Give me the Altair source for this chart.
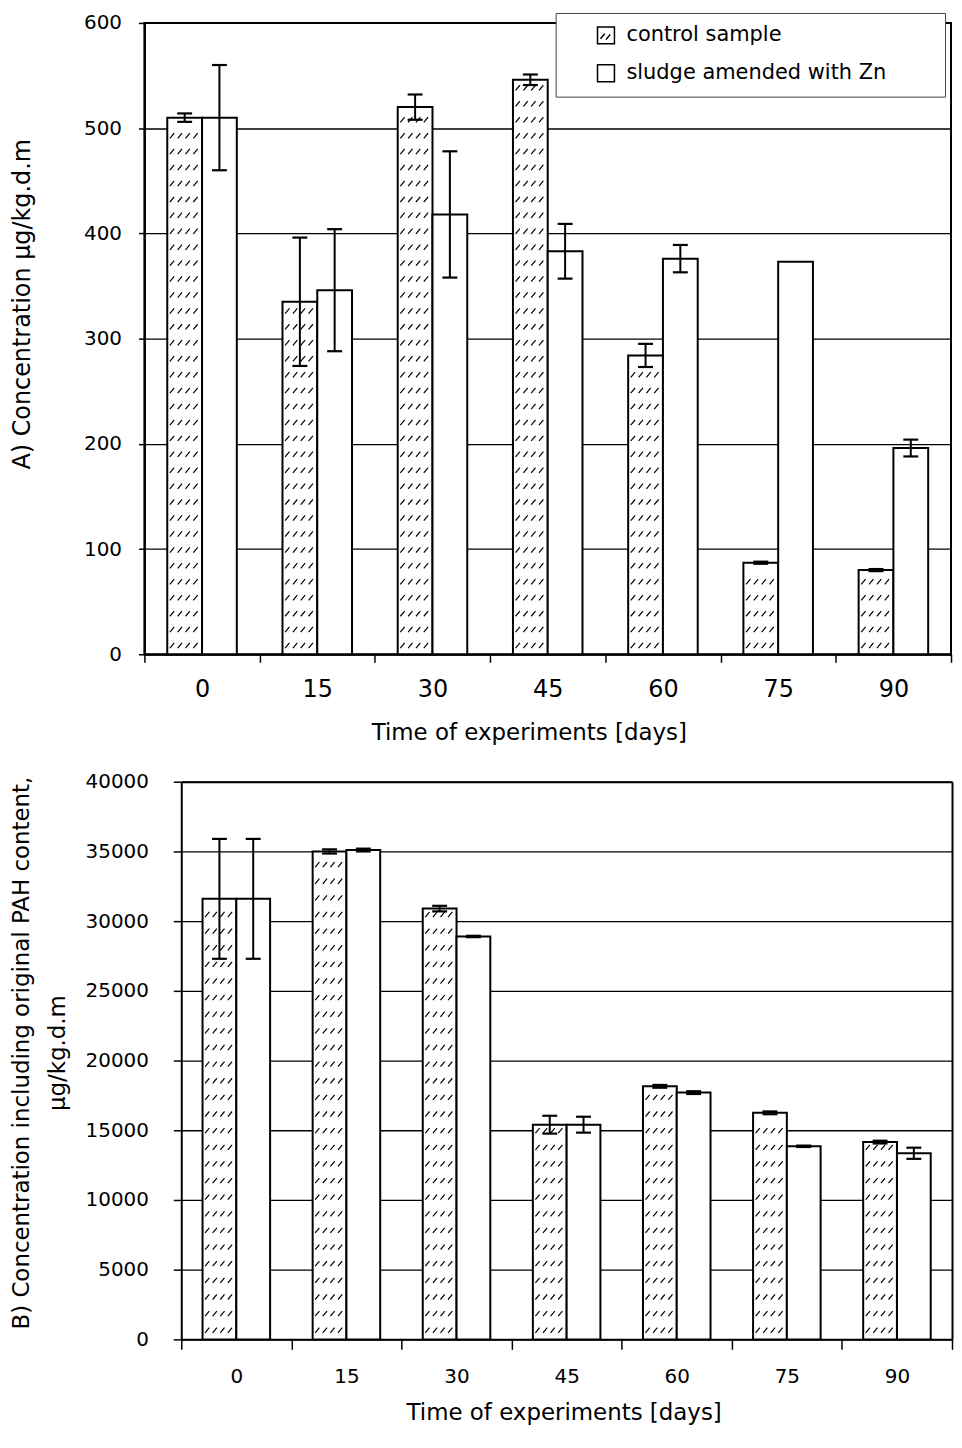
import altair as alt
import pandas as pd
import numpy as np

days = ["0", "15", "30", "45", "60", "75", "90"]
series = ["control sample", "sludge amended with Zn"]

# Panel A values
a_control = [510, 335, 520, 546, 284, 87, 80]
a_control_err = [4, 61, 12, 5, 11, 1, 1]
a_sludge = [510, 346, 418, 383, 376, 373, 196]
a_sludge_err = [50, 58, 60, 26, 13, 0, 8]

# Panel B values
b_control = [31600, 35000, 30900, 15400, 18150, 16250, 14150]
b_control_err = [4300, 150, 200, 640, 100, 100, 100]
b_sludge = [31600, 35100, 28900, 15400, 17700, 13850, 13350]
b_sludge_err = [4300, 100, 50, 570, 100, 50, 400]

FONT = "DejaVu Sans"
HATCH = "M-0.85,0.15L-0.6,-0.15M-0.4,0.15L-0.15,-0.15M0.05,0.15L0.3,-0.15M0.5,0.15L0.75,-0.15"
LEG_CTRL = "M-1,-1H1V1H-1ZM-0.65,0.4L-0.15,-0.2M0.0,0.5L0.5,-0.1"


def frames(ctrl, ctrl_err, sl, sl_err, hatch_step):
    rows = []
    for d, v, e in zip(days, ctrl, ctrl_err):
        rows.append({"day": d, "series": series[0], "value": v, "lo": v - e, "hi": v + e, "err": e})
    for d, v, e in zip(days, sl, sl_err):
        rows.append({"day": d, "series": series[1], "value": v, "lo": v - e, "hi": v + e, "err": e})
    df = pd.DataFrame(rows)
    hrows = []
    for d, v in zip(days, ctrl):
        for y in np.arange(hatch_step * 0.55, v - hatch_step * 0.3, hatch_step):
            hrows.append({"day": d, "series": series[0], "hy": float(y)})
    return df, pd.DataFrame(hrows)


def panel(df, hdf, width, height, x0, ymax, ystep, pad_outer, ytitle, yaxis_kw, xaxis_kw, legend, frame_axes):
    data_w = width - x0
    noax = None if frame_axes else alt.Undefined
    xs = alt.X("day:N", sort=days, scale=alt.Scale(paddingInner=0, paddingOuter=0, range=[x0, width]),
               axis=alt.Axis(**xaxis_kw))
    xo = alt.XOffset("series:N", scale=alt.Scale(domain=series, paddingInner=0, paddingOuter=pad_outer))
    yscale = alt.Scale(domain=[0, ymax], nice=False)
    bars = alt.Chart(df).mark_bar(stroke="black", strokeWidth=2).encode(
        x=xs, xOffset=xo,
        y=alt.Y("value:Q", scale=yscale,
                axis=alt.Axis(title=ytitle, values=list(range(0, ymax + 1, ystep)), format="d",
                              **yaxis_kw)),
        fill=alt.Fill("series:N", scale=alt.Scale(domain=series, range=["white", "white"]), legend=legend),
    )
    bw = data_w / 7 / (2 + 2 * pad_outer)
    hatch = alt.Chart(hdf).mark_point(shape=HATCH, size=bw * bw, filled=False, stroke="black",
                                       strokeWidth=1.2, opacity=1).encode(
        x=alt.X("day:N", sort=days, axis=noax), xOffset="series:N", y=alt.Y("hy:Q", axis=noax))
    edf = df[df["err"] > 0]
    if frame_axes:
        fx = alt.Axis(orient="top", labels=False, ticks=False, title=None, grid=False,
                      domainColor="black", domainWidth=2, minExtent=0, maxExtent=0)
        fy = alt.Axis(orient="right", labels=False, ticks=False, title=None, grid=False,
                      domainColor="black", domainWidth=2, minExtent=0, maxExtent=0)
    else:
        fx = alt.Undefined
        fy = alt.Undefined
    rule = alt.Chart(edf).mark_rule(color="black", strokeWidth=2).encode(
        x=alt.X("day:N", sort=days, axis=fx), xOffset="series:N",
        y=alt.Y("lo:Q", axis=fy), y2="hi:Q")
    cap_lo = alt.Chart(edf).mark_tick(color="black", thickness=2.2, size=15, opacity=1).encode(
        x=alt.X("day:N", sort=days, axis=noax), xOffset="series:N", y=alt.Y("lo:Q", axis=noax))
    cap_hi = alt.Chart(edf).mark_tick(color="black", thickness=2.2, size=15, opacity=1).encode(
        x=alt.X("day:N", sort=days, axis=noax), xOffset="series:N", y=alt.Y("hi:Q", axis=noax))
    lay = alt.layer(bars, hatch, rule, cap_lo, cap_hi).properties(width=width, height=height)
    if frame_axes:
        lay = lay.resolve_axis(x="independent", y="independent").properties(
            view=alt.ViewBackground(stroke="transparent"))
    else:
        lay = lay.properties(view=alt.ViewBackground(stroke="black", strokeWidth=2))
    return lay


# ---- Panel A
wA, hA = 810, 634
dfA, hA_df = frames(a_control, a_control_err, a_sludge, a_sludge_err, 16 / (hA / 600))
BLANK = "\u2800\u2800\u2800"
legendA = alt.Legend(
    title=None, orient="none", legendX=413, legendY=-10, padding=12, rowPadding=15,
    symbolOffset=28, symbolSize=289, symbolStrokeColor="black", symbolStrokeWidth=1.5,
    symbolType={"expr": "datum.value == 'control sample' ? '" + LEG_CTRL + "' : 'square'"},
    labelFont=FONT, labelFontSize=21, labelColor="black", labelOffset=10, labelLimit=600,
    labelExpr="datum.label + '" + BLANK + "'",
    strokeColor="#444444", fillColor="white",
)
yA = dict(grid=True, gridColor="black", gridWidth=1.3, domainColor="black", domainWidth=2,
          tickColor="black", tickSize=6, tickWidth=1.5, labelFont=FONT, labelFontSize=20,
          labelColor="black", labelPadding=17, titleFont=FONT, titleFontSize=24,
          titleFontWeight="normal", titleColor="black", titleX=-115, titleY=282,
          titleBaseline="alphabetic", titleAlign="center", titleAngle=270)
xA = dict(title="Time of experiments [days]", tickBand="extent", grid=False, labelAngle=0,
          domainColor="black", domainWidth=2, tickColor="black", tickSize=8, tickWidth=1.5,
          labelFont=FONT, labelFontSize=24, labelColor="black", labelPadding=15,
          titleFont=FONT, titleFontSize=23, titleFontWeight="normal", titleColor="black",
          titleX=386, titleY=86, titleBaseline="alphabetic", titleAlign="center")
top = panel(dfA, hA_df, wA, hA, 0, 600, 100, 0.657, "A) Concentration \u00b5g/kg.d.m", yA, xA,
            legendA, False)

# ---- Panel B
wB, hB, x0B = 811, 560, 37
dfB, hB_df = frames(b_control, b_control_err, b_sludge, b_sludge_err, 16.7 / (hB / 40000))
yB = dict(yA)
yB.update(labelPadding=25, tickSize=8, titleFontSize=23, titleX=-153, titleY=272, titleLineHeight=36,
          offset=-x0B)
xB = dict(xA)
xB.update(tickSize=10, labelFontSize=20, labelPadding=17, titleX=421, titleY=80)
bottom = panel(dfB, hB_df, wB, hB, x0B, 40000, 5000, 0.63,
               ["B) Concentration including original PAH content,", "\u00b5g/kg.d.m"], yB, xB, None, True)

chart = (alt.concat(top, bottom, columns=1, spacing=25)
         .resolve_scale(fill="independent", x="independent", y="independent", xOffset="independent")
         .resolve_legend(fill="independent")
         .properties(padding={"left": 2, "top": 0, "right": 0, "bottom": 0})
         .configure(background="white"))

chart.save("out.html", embed_options={"renderer": "svg", "actions": False})
